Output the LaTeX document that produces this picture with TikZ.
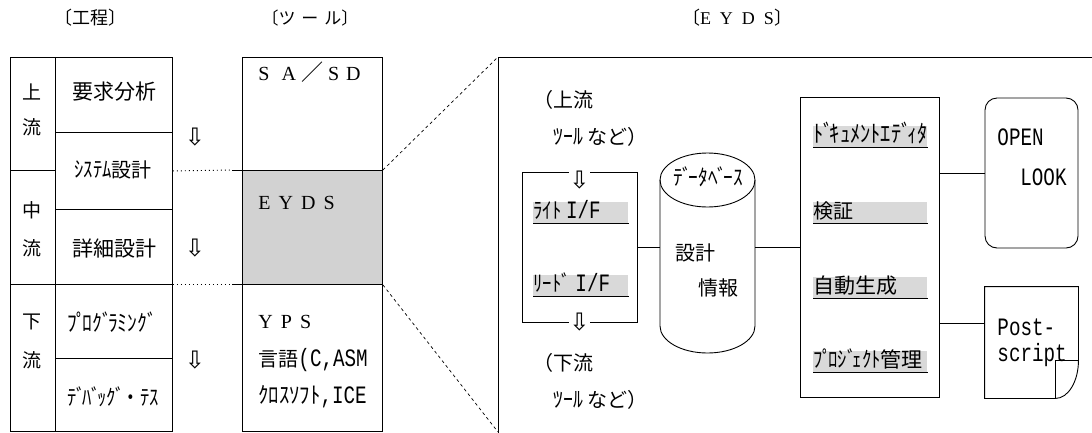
\documentclass[tikz,border=0pt]{standalone}
\usepackage{fontspec}
\setmainfont{Liberation Serif}
\newfontfamily\jpf{Noto Sans CJK JP}
\newfontfamily\monof{Liberation Mono}
\newfontfamily\symf{DejaVu Sans}
\newcommand\fsz[1]{\fontsize{#1}{#1}\selectfont}
\newcommand\mnt[1]{\scalebox{0.77}[1]{\monof\fsz{25}#1}}
\newcommand\hk[3]{\scalebox{#2}[1]{\fsz{#1}#3}}
\XeTeXinterchartokenstate=1
\newXeTeXintercharclass\dkcls
\XeTeXcharclass"FF9E=\dkcls
\XeTeXcharclass"FF9F=\dkcls
\XeTeXinterchartoks \dkcls 0 = {\kern-0.2em}
\XeTeXinterchartoks \dkcls 1 = {\kern-0.2em}
\XeTeXinterchartoks \dkcls 2 = {\kern-0.2em}
\XeTeXinterchartoks \dkcls 3 = {\kern-0.2em}
\begin{document}
\begin{tikzpicture}[x=1pt,y=-1pt, line width=0.9pt,
  cell/.style={draw, inner sep=0pt, anchor=north west},
  jtext/.style={font=\jpf\fsz{#1}, inner sep=0pt},
  ltext/.style={font=\fsz{#1}, inner sep=0pt},
  hl/.style={fill=gray!30, text width=#1, align=left, inner xsep=0pt, inner ysep=1.5pt,
     text height=15pt, text depth=3pt, anchor=south west},
  darr/.style={font=\symf\fsz{24}, inner sep=0.5pt},
  dashln/.style={line width=0.7pt, dash pattern=on 3pt off 3pt},
  dotln/.style={line width=0.9pt, dash pattern=on 1pt off 3pt},
  shade/.style={fill=gray!35},
]
\useasboundingbox (0,0) rectangle (1092,432);
\clip (0,0) rectangle (1092,432);

% headers
\node[jtext=18] (h1) at (90,18) {〔工程〕};
\node[jtext=17] (h2) at (310,18) {〔ツ\hspace{6pt}ー\hspace{6pt}ル〕};
\node[ltext=18] (h3) at (737,18) {{\jpf 〔}E\hspace{9pt}Y\hspace{9pt}D\hspace{9pt}S{\jpf 〕}};

% process table
\node[cell, minimum width=45pt, minimum height=113pt] (L1) at (10,57) {};
\node[cell, minimum width=45pt, minimum height=114pt] (L2) at (10,170) {};
\node[cell, minimum width=45pt, minimum height=147pt] (L3) at (10,284) {};
\node[jtext=19] (l1a) at (32.5,92) {上};
\node[jtext=19] (l1b) at (32.5,127) {流};
\node[jtext=19] (l2a) at (32.5,210) {中};
\node[jtext=19] (l2b) at (32.5,248) {流};
\node[jtext=19] (l3a) at (32.5,322) {下};
\node[jtext=19] (l3b) at (32.5,360) {流};

\node[cell, minimum width=117pt, minimum height=75pt] (R1) at (55,57) {};
\node[cell, minimum width=117pt, minimum height=77pt] (R2) at (55,132) {};
\node[cell, minimum width=117pt, minimum height=75pt] (R3) at (55,209) {};
\node[cell, minimum width=117pt, minimum height=74pt] (R4) at (55,284) {};
\node[cell, minimum width=117pt, minimum height=73pt] (R5) at (55,358) {};
\node[jtext=21] (r1) at (114,92) {要求分析};
\node[jtext=20] (r2) at (113,170) {\hk{22}{0.85}{ｼｽﾃﾑ}設計};
\node[jtext=21] (r3) at (114,248) {詳細設計};
\node[jtext=20] (r4) at (112,322) {\hk{23}{0.85}{ﾌﾟﾛｸﾞﾗﾐﾝｸﾞ}};
\node[jtext=20] (r5) at (113,397) {\hk{22}{0.85}{ﾃﾞﾊﾞｯｸﾞ・ﾃｽ}};

\node[darr] (a1) at (195,137) {⇩};
\node[darr] (a2) at (195,248) {⇩};
\node[darr] (a3) at (195,360) {⇩};

% tool table
\node[cell, minimum width=140pt, minimum height=113pt] (T1) at (242,57) {};
\node[cell, shade, minimum width=140pt, minimum height=114pt] (T2) at (242,170) {};
\node[cell, minimum width=140pt, minimum height=147pt] (T3) at (242,284) {};
\node[ltext=20, anchor=west] (t1) at (258,72) {S\hspace{12pt}A\hspace{5pt}{\jpf\fsz{22}／}\hspace{5pt}S\hspace{7pt}D};
\node[ltext=20, anchor=west] (t2) at (258,203) {E\hspace{8pt}Y\hspace{8pt}D\hspace{8pt}S};
\node[ltext=20, anchor=west] (t3) at (258,322) {Y\hspace{8pt}P\hspace{8pt}S};
\node[jtext=20, anchor=west] (t4) at (258,360) {言語\mnt{(C,ASM}};
\node[jtext=20, anchor=west] (t5) at (258,397) {\hk{23}{0.9}{ｸﾛｽｿﾌﾄ}\mnt{,ICE}};

% dotted links process -> tools
\coordinate (d1) at ([xshift=-10pt]T2.north west);
\coordinate (d2) at ([xshift=-10pt]T3.north west);
\draw[dotln] (R2.east) -- (d1);
\draw (d1) -- (T2.north west);
\draw[dotln] (R4.north east) -- (d2);
\draw (d2) -- (T3.north west);

% EYDS frame
\coordinate (B1) at (498,57);
\coordinate (B2) at (498,432);
\draw (1100,57) -- (B1) -- (498,440);
\draw[dashln] (T2.north east) -- (B1);
\draw[dashln] (T2.south east) -- (B2);

% upstream / downstream labels
\node[jtext=20, anchor=west] (u1) at (533,100) {（上流};
\node[jtext=20, anchor=west] (u2) at (553,137) {\hk{22}{0.9}{ﾂｰﾙ} など）};
\node[jtext=20, anchor=west] (w1) at (533,363) {（下流};
\node[jtext=20, anchor=west] (w2) at (553,400) {\hk{22}{0.9}{ﾂｰﾙ} など）};

% interface box
\node[draw, inner sep=0pt, minimum width=115pt, minimum height=150pt] (lbox) at (579.5,247) {};
\node[darr, fill=white] (ia) at ([yshift=-8pt]lbox.north) {⇩};
\node[darr, fill=white] (ib) at (lbox.south) {⇩};
\node[jtext=18, hl=95pt] (wif) at (533,223) {\hk{22}{0.85}{ﾗｲﾄ}\mnt{ I/F}};
\draw (wif.south west) -- (wif.south east);
\node[jtext=18, hl=95pt] (rif) at (533,296) {\hk{22}{0.85}{ﾘｰﾄﾞ}\mnt{ I/F}};
\draw (rif.south west) -- (rif.south east);

% database cylinder
\node[inner sep=0pt, minimum width=95pt, minimum height=200pt] (db) at (707.5,253) {};
\draw (707.5,180) ellipse [x radius=47.5pt, y radius=27pt];
\draw (660,180) -- (660,326) arc[start angle=180, end angle=360, x radius=47.5pt, y radius=27pt] -- (755,180);
\node[jtext=17] (dbt) at (708,177) {\hk{22}{0.88}{ﾃﾞｰﾀﾍﾞｰｽ}};
\node[jtext=20, anchor=west] (dbi1) at (675,253) {設計};
\node[jtext=20, anchor=west] (dbi2) at (698,288) {情報};

% function box
\node[draw, inner sep=0pt, minimum width=139pt, minimum height=300pt] (fbox) at (869.5,247) {};
\node[jtext=19, hl=114pt] (f1) at (813,147) {\hk{24}{0.85}{ﾄﾞｷｭﾒﾝﾄｴﾃﾞｨﾀ}};
\draw (f1.south west) -- (f1.south east);
\node[jtext=20, hl=114pt] (f2) at (813,223) {検証};
\draw (f2.south west) -- (f2.south east);
\node[jtext=21, hl=114pt] (f3) at (813,298) {自動生成};
\draw (f3.south west) -- (f3.south east);
\node[jtext=21, hl=114pt] (f4) at (813,372) {\hk{22}{0.85}{ﾌﾟﾛｼﾞｪｸﾄ}管理};
\draw (f4.south west) -- (f4.south east);

% output boxes
\node[draw, rounded corners=12pt, inner sep=0pt, minimum width=93pt, minimum height=150pt] (olbox) at (1031.5,173) {};
\node[inner sep=0pt, anchor=west] (op) at (997,137) {\mnt{OPEN}};
\node[inner sep=0pt, anchor=east] (lk) at (1067,177) {\mnt{LOOK}};

\node[inner sep=0pt, minimum width=93pt, minimum height=111pt] (psbox) at (1031.5,342.5) {};
\draw (psbox.south west) -- (psbox.north west) -- (psbox.north east) -- ([yshift=38pt]psbox.south east)
  arc[start angle=0, end angle=-90, x radius=23pt, y radius=38pt] -- cycle;
\coordinate (fold) at ([xshift=-23pt,yshift=38pt]psbox.south east);
\draw ([xshift=-23pt]psbox.south east) -- (fold) -- ([yshift=38pt]psbox.south east);
\node[inner sep=0pt, anchor=west] (ps1) at (997,327) {\mnt{Post-}};
\node[inner sep=0pt, anchor=west] (ps2) at (997,355) {\mnt{script}};

% connectors
\draw (lbox.east) -- (lbox.east -| db.west);
\draw (fbox.west -| db.east) -- (fbox.west);
\draw (fbox.east |- olbox.west) -- (olbox.west);
\coordinate (pin) at ([yshift=19.5pt]psbox.west);
\draw (fbox.east |- pin) -- (pin);
\end{tikzpicture}
\end{document}
